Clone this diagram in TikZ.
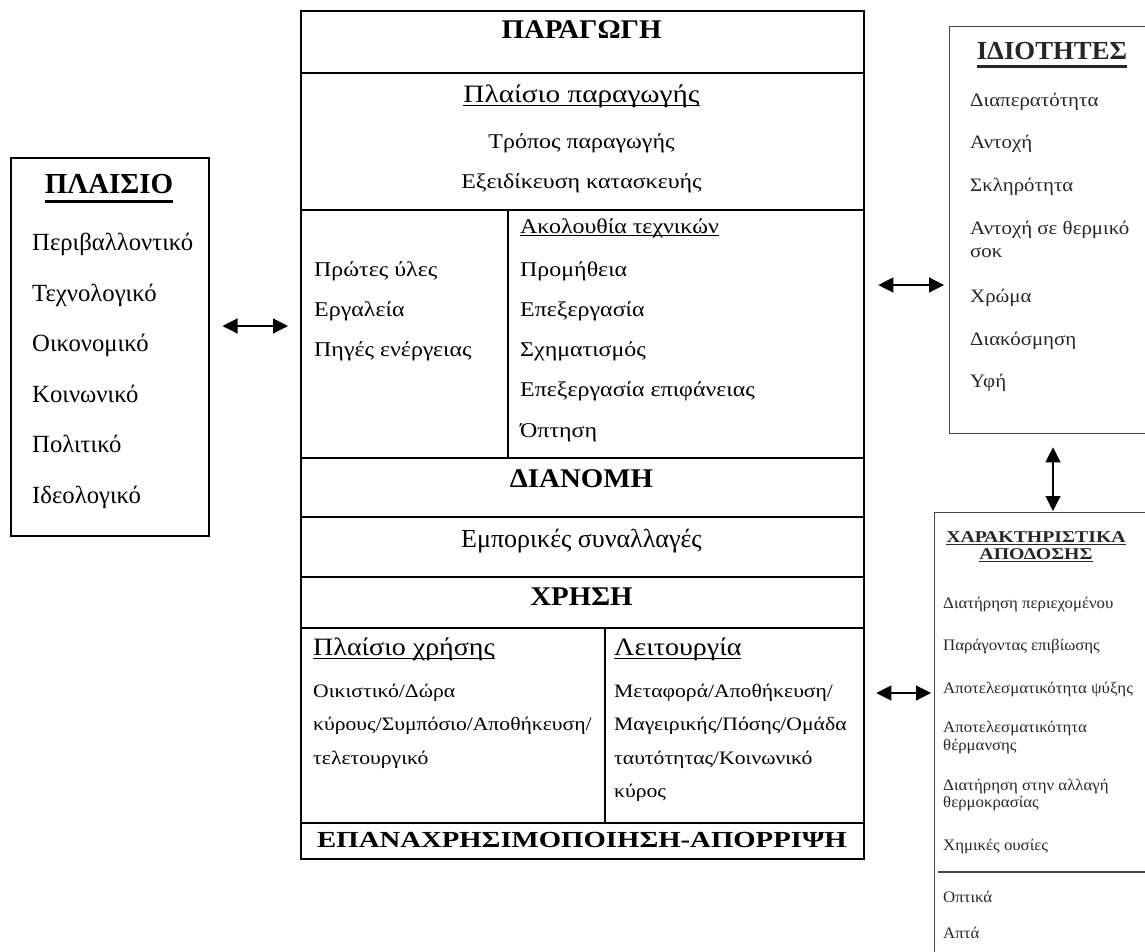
\documentclass[tikz,border=0pt]{standalone}
\usepackage{graphicx}
\usepackage{fontspec}
\setmainfont{Liberation Serif}
\usetikzlibrary{arrows.meta}
\newcommand\myfs[1]{\fontsize{#1}{#1}\selectfont}
\newcommand\myul[3]{\setbox0=\hbox{#3}\leavevmode\rlap{\copy0}\rule[-#1]{\wd0}{#2}}
% font size, horizontal stretch, text
\newcommand\tx[3]{\scalebox{#2}[1]{\myfs{#1}#3}}
\begin{document}
\begin{tikzpicture}[x=1pt,y=-1pt,
  box/.style={draw, rectangle, anchor=north west, inner sep=0pt},
  graybox/.style={draw=black!72, line width=1.3pt, rectangle, anchor=north west, inner sep=0pt},
  txt/.style={inner sep=0pt, anchor=base west},
  ctxt/.style={inner sep=0pt, anchor=base},
  dar/.style={{Triangle[length=15pt,width=15pt]}-{Triangle[length=15pt,width=15pt]}, line width=1.2pt},
  sep/.style={line width=2.3pt}
]
\useasboundingbox (0,0) rectangle (1145,951);

% ---------- left box ----------
\node[box, line width=1.5pt, minimum width=198pt, minimum height=378pt] (plaisio) at (10,157) {};
\node[ctxt] (p0) at (109,193) {\myfs{29}\myul{9.5pt}{2.6pt}{\textbf{ΠΛΑΙΣΙΟ}}};
\node[txt] (p1) at (32,250) {\myfs{24.7}Περιβαλλοντικό};
\node[txt] (p2) at (32,301) {\myfs{24.7}Τεχνολογικό};
\node[txt] (p3) at (32,351) {\myfs{24.7}Οικονομικό};
\node[txt] (p4) at (32,402) {\myfs{24.7}Κοινωνικό};
\node[txt] (p5) at (32,452) {\myfs{24.7}Πολιτικό};
\node[txt] (p6) at (32,503) {\myfs{24.7}Ιδεολογικό};

% ---------- main box ----------
\node[box, line width=2.3pt, minimum width=563pt, minimum height=848pt] (main) at (300,10) {};
\foreach \yy in {73,210,458,517,577,628,823}
  \draw[sep] (main.west |- 0,\yy) -- (main.east |- 0,\yy);
\draw[sep] (508,210) -- (508,458);
\draw[sep] (605,628) -- (605,823);

\node[ctxt] (m0) at (581.5,38) {\tx{27}{1.07}{\textbf{ΠΑΡΑΓΩΓΗ}}};
\node[ctxt] (m1) at (581.5,102) {\tx{25}{1.17}{\myul{4pt}{1.3pt}{Πλαίσιο παραγωγής}}};
\node[ctxt] (m2) at (581.5,148) {\tx{21}{1.14}{Τρόπος παραγωγής}};
\node[ctxt] (m3) at (581.5,188) {\tx{21}{1.14}{Εξειδίκευση κατασκευής}};

\node[txt] (a1) at (314,276) {\tx{21}{1.14}{Πρώτες ύλες}};
\node[txt] (a2) at (314,316) {\tx{21}{1.14}{Εργαλεία}};
\node[txt] (a3) at (314,356) {\tx{21}{1.14}{Πηγές ενέργειας}};

\node[txt] (b0) at (520,233) {\tx{21}{1.14}{\myul{3pt}{1.2pt}{Ακολουθία τεχνικών}}};
\node[txt] (b1) at (520,276) {\tx{21}{1.14}{Προμήθεια}};
\node[txt] (b2) at (520,316) {\tx{21}{1.14}{Επεξεργασία}};
\node[txt] (b3) at (520,356) {\tx{21}{1.14}{Σχηματισμός}};
\node[txt] (b4) at (520,396) {\tx{21}{1.14}{Επεξεργασία επιφάνειας}};
\node[txt] (b5) at (520,437) {\tx{21}{1.14}{Όπτηση}};

\node[ctxt] (d0) at (581.5,487) {\tx{27}{1.07}{\textbf{ΔΙΑΝΟΜΗ}}};
\node[ctxt] (d1) at (581.5,547) {\tx{26}{1}{Εμπορικές συναλλαγές}};
\node[ctxt] (u0) at (581.5,605) {\tx{27}{1.07}{\textbf{ΧΡΗΣΗ}}};

\node[txt] (c0) at (313,655) {\tx{25}{1.12}{\myul{4pt}{1.3pt}{Πλαίσιο χρήσης}}};
\node[txt] (c1) at (313,697) {\tx{19}{1.14}{Οικιστικό/Δώρα}};
\node[txt] (c2) at (313,730) {\tx{19}{1.14}{κύρους/Συμπόσιο/Αποθήκευση/}};
\node[txt] (c3) at (313,764) {\tx{19}{1.14}{τελετουργικό}};

\node[txt] (f0) at (614,655) {\tx{25}{1.12}{\myul{4pt}{1.3pt}{Λειτουργία}}};
\node[txt] (f1) at (614,697) {\tx{19}{1.14}{Μεταφορά/Αποθήκευση/}};
\node[txt] (f2) at (614,730) {\tx{19}{1.14}{Μαγειρικής/Πόσης/Ομάδα}};
\node[txt] (f3) at (614,764) {\tx{19}{1.14}{ταυτότητας/Κοινωνικό}};
\node[txt] (f4) at (614,797) {\tx{19}{1.14}{κύρος}};

\node[ctxt] (e0) at (582,847) {\tx{23}{1.25}{\textbf{ΕΠΑΝΑΧΡΗΣΙΜΟΠΟΙΗΣΗ-ΑΠΟΡΡΙΨΗ}}};

% ---------- right top box ----------
\node[graybox, minimum width=210pt, minimum height=407pt] (idiot) at (949,26) {};
\begin{scope}[every node/.append style={text=black!85}]
\node[ctxt] (i0) at (1052,59) {\tx{26}{1.03}{\myul{8.5pt}{2.4pt}{\textbf{ΙΔΙΟΤΗΤΕΣ}}}};
\node[txt] (i1) at (970,106) {\tx{19}{1.1}{Διαπερατότητα}};
\node[txt] (i2) at (970,148) {\tx{19}{1.1}{Αντοχή}};
\node[txt] (i3) at (970,191) {\tx{19}{1.1}{Σκληρότητα}};
\node[txt] (i4) at (970,234) {\tx{19}{1.1}{Αντοχή σε θερμικό}};
\node[txt] (i4b) at (970,257) {\tx{19}{1.1}{σοκ}};
\node[txt] (i5) at (970,302) {\tx{19}{1.1}{Χρώμα}};
\node[txt] (i6) at (970,345) {\tx{19}{1.1}{Διακόσμηση}};
\node[txt] (i7) at (970,387) {\tx{19}{1.1}{Υφή}};
\end{scope}

% ---------- right bottom box ----------
\node[graybox, minimum width=220pt, minimum height=450pt] (xar) at (934,512) {};
\draw[draw=black!72, line width=1.3pt] (938,872) -- (xar.east |- 0,872);
\begin{scope}[every node/.append style={text=black!85}]
\node[ctxt] (x0) at (1036,542) {\tx{16.5}{1.2}{\myul{3pt}{1.5pt}{\textbf{ΧΑΡΑΚΤΗΡΙΣΤΙΚΑ}}}};
\node[ctxt] (x0b) at (1036,559) {\tx{16.5}{1.2}{\myul{3pt}{1.5pt}{\textbf{ΑΠΟΔΟΣΗΣ}}}};
\node[txt] (x1) at (943,608) {\tx{16}{1.05}{Διατήρηση περιεχομένου}};
\node[txt] (x2) at (943,650) {\tx{16}{1.05}{Παράγοντας επιβίωσης}};
\node[txt] (x3) at (943,693) {\tx{16}{1.05}{Αποτελεσματικότητα ψύξης}};
\node[txt] (x4) at (943,732) {\tx{16}{1.05}{Αποτελεσματικότητα}};
\node[txt] (x4b) at (943,750) {\tx{16}{1.05}{θέρμανσης}};
\node[txt] (x5) at (943,790) {\tx{16}{1.05}{Διατήρηση στην αλλαγή}};
\node[txt] (x5b) at (943,807) {\tx{16}{1.05}{θερμοκρασίας}};
\node[txt] (x6) at (943,850) {\tx{16}{1.05}{Χημικές ουσίες}};
\node[txt] (x7) at (943,902) {\tx{16}{1.05}{Οπτικά}};
\node[txt] (x8) at (943,938) {\tx{16}{1.05}{Απτά}};
\end{scope}

% ---------- connectors ----------
\coordinate (ya) at (0,326);
\coordinate (yb) at (0,285);
\coordinate (yc) at (0,693);
\coordinate (xd) at (1053,0);
\draw[dar, shorten <=13pt, shorten >=12pt] (plaisio.east |- ya) -- (main.west |- ya);
\draw[dar, shorten <=13pt, shorten >=5pt] (main.east |- yb) -- (idiot.west |- yb);
\draw[dar, shorten <=11pt, shorten >=3pt] (main.east |- yc) -- (xar.west |- yc);
\draw[dar, shorten <=13pt, shorten >=1pt] (idiot.south -| xd) -- (xar.north -| xd);
\end{tikzpicture}
\end{document}
